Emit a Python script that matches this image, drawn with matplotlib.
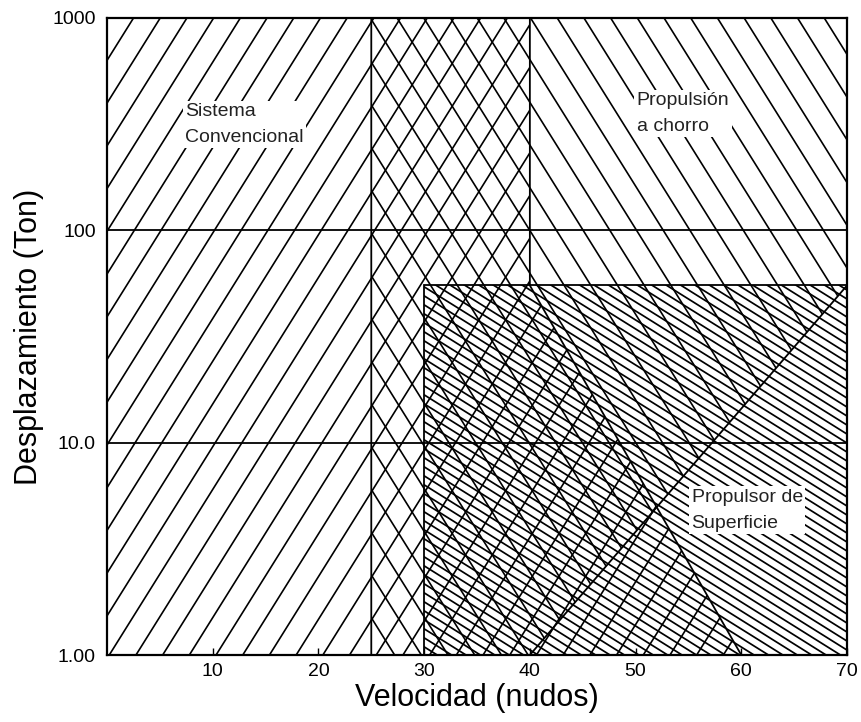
import numpy as np
import matplotlib
matplotlib.use("Agg")
import matplotlib.pyplot as plt
from matplotlib.patches import Polygon
from matplotlib.collections import LineCollection

plt.rcParams['font.family'] = ['Liberation Sans', 'DejaVu Sans']

# axis ticks
vel_ticks = [10, 20, 30, 40, 50, 60, 70]
disp_ticks = [1, 10, 100, 1000]
disp_labels = ['1.00', '10.0', '100', '1000']

# regions (velocidad, desplazamiento)
conv_v = [0, 0, 40, 40, 60]
conv_d = [1, 1000, 1000, 55, 1]
jet_v = [25, 25, 70, 70, 40]
jet_d = [1, 1000, 1000, 55, 1]
surf_v = [30, 30, 70, 70]
surf_d = [1, 55, 55, 1]

# labels
lbl_text = ['Sistema\nConvencional', 'Propulsión\na chorro', 'Propulsor de\nSuperficie']
lbl_v = [7.4, 50.1, 55.3]
lbl_d = [315, 355, 4.8]

fig = plt.figure(figsize=(8.61, 7.22), dpi=100)
ax = fig.add_axes([107/861, 1-655/722, 740/861, 637/722])
ax.set_xlim(0, 70)
ax.set_ylim(1, 1000)
ax.set_yscale('log')

W, H = 740.0, 637.0  # axes size in pixels


def hatch(poly, angle, spacing, phase=0.0, lw=1.0):
    # parallel lines in pixel space, clipped to the polygon
    a = np.deg2rad(angle)
    d = np.array([np.cos(a), np.sin(a)])
    n = np.array([-d[1], d[0]])
    L = W + H
    segs = []
    for k in np.arange(-L, L, spacing):
        c = n * (k + phase) + np.array([W/2, H/2])
        p0 = c - d * L
        p1 = c + d * L
        segs.append([(p0[0]/W, p0[1]/H), (p1[0]/W, p1[1]/H)])
    lc = LineCollection(segs, colors='black', linewidths=lw, transform=ax.transAxes)
    lc.set_clip_path(poly)
    ax.add_collection(lc)


def region(vs, ds):
    p = Polygon(np.column_stack([vs, ds]), closed=True, fill=False,
                edgecolor='black', linewidth=1.3, zorder=3)
    ax.add_patch(p)
    return p


p_conv = region(conv_v, conv_d)
p_jet = region(jet_v, jet_d)
p_surf = region(surf_v, surf_d)

hatch(p_conv, 58, 26.7 * np.sin(np.deg2rad(58)), 3, lw=1.2)
hatch(p_jet, 122, 26.7 * np.sin(np.deg2rad(58)), 8, lw=1.2)
hatch(p_surf, -32, 9.0 * np.cos(np.deg2rad(32)), 2, lw=1.25)

for v in [10, 100]:
    ax.axhline(v, color='black', linewidth=1.3, zorder=3)

for t, v, d in zip(lbl_text, lbl_v, lbl_d):
    ax.text(v, d, t, fontsize=14, va='center', ha='left', color='#222222',
            linespacing=1.7, zorder=5,
            bbox=dict(boxstyle='square,pad=0.12', facecolor='white', edgecolor='none'))

ax.set_xticks(vel_ticks)
ax.set_xticklabels([str(v) for v in vel_ticks])
ax.set_yticks(disp_ticks)
ax.set_yticklabels(disp_labels)
ax.yaxis.set_minor_locator(matplotlib.ticker.NullLocator())
ax.tick_params(direction='in', length=5, width=1, labelsize=14, pad=6)
ax.tick_params(axis='y', length=0, pad=8)
for s in ax.spines.values():
    s.set_linewidth(1.6)

ax.set_xlabel('Velocidad (nudos)', fontsize=22, labelpad=2)
ax.set_ylabel('Desplazamiento (Ton)', fontsize=22, labelpad=6)

fig.savefig('out.png', dpi=100)
